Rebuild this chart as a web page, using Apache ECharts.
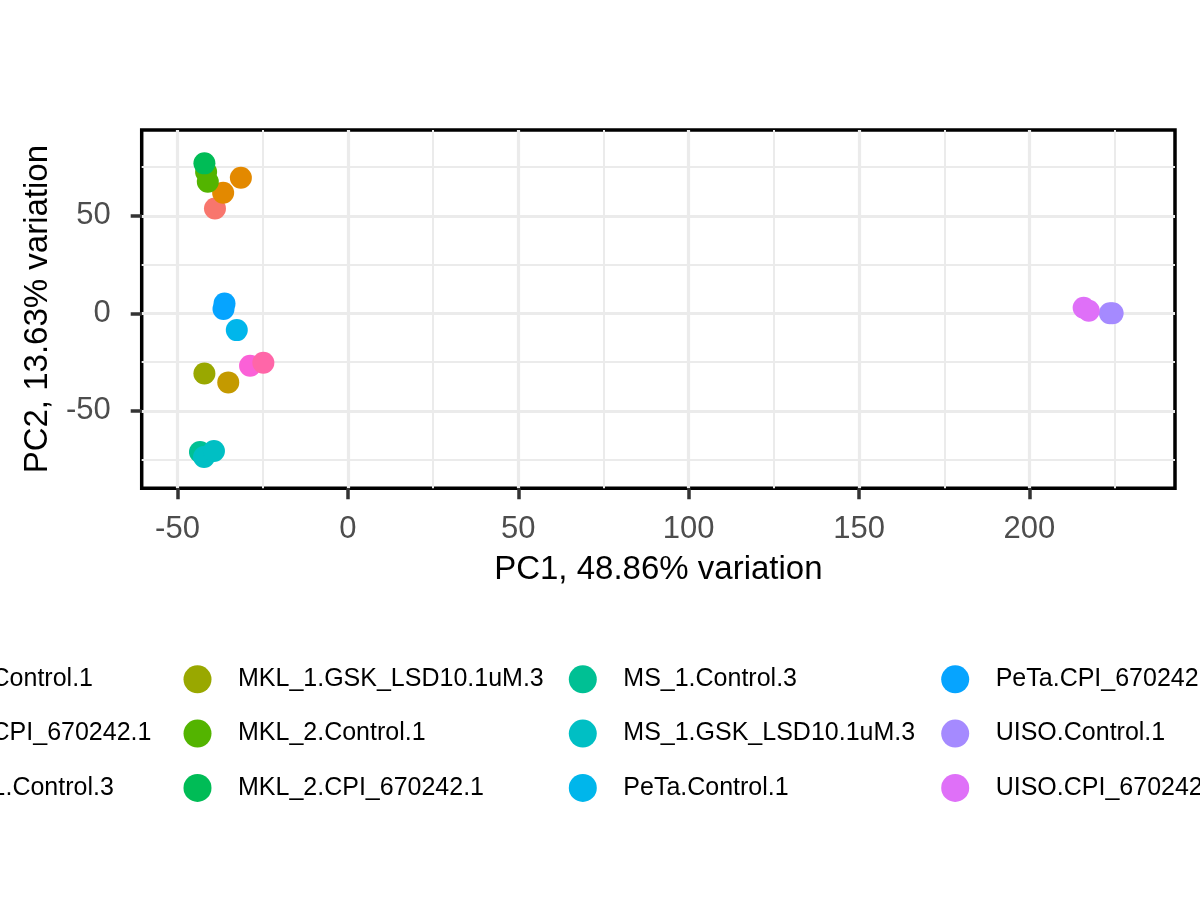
<!DOCTYPE html>
<html>
<head>
<meta charset="utf-8">
<title>PCA biplot</title>
<script src="https://cdn.jsdelivr.net/npm/echarts@6/dist/echarts.min.js"></script>
<style>
  html, body { margin: 0; padding: 0; background: #fff; }
  #chart { width: 1200px; height: 900px; }
</style>
</head>
<body>
<div id="chart"></div>
<script>
// sample names, in legend order (filled column by column, 3 per column)
var sampleNames = [
  "MKL_1.Control.1", "MKL_1.CPI_670242.1", "MKL_1.1.Control.3",
  "MKL_1.GSK_LSD10.1uM.3", "MKL_2.Control.1", "MKL_2.CPI_670242.1",
  "MS_1.Control.3", "MS_1.GSK_LSD10.1uM.3", "PeTa.Control.1",
  "PeTa.CPI_670242.1", "UISO.Control.1", "UISO.CPI_670242.1",
  "UISO.Control.3", "UISO.GSK_LSD10.1uM.3"
];

// ggplot hue palette for 14 levels
var palette = [
  "#F8766D", "#E38900", "#C49A00", "#99A800", "#53B400", "#00BC56", "#00C094",
  "#00BFC4", "#00B6EB", "#06A4FF", "#A58AFF", "#DF70F8", "#FB61D7", "#FF66A8"
];

// points: PC1, PC2 and the sample (index into sampleNames)
var pc1Values = [-39.0, -31.4, -36.6, -35.1, -42.1, -41.6, -41.1, -42.1, -43.4, -42.2, -39.3,
                 -32.6, -36.2, -36.5, 223.6, 224.4, 215.9, 217.4, -28.7, -24.8];
var pc2Values = [53.8, 69.5, 61.8, -35.4, -30.8, 72.5, 67.5, 76.9, -71.1, -73.7, -70.6,
                 -8.6, 5.0, 2.2, 0.0, 0.0, 2.9, 1.3, -26.9, -25.3];
var pointGroup = [0, 1, 1, 2, 3, 4, 4, 5, 6, 7, 7, 8, 9, 9, 10, 10, 11, 11, 12, 13];

var xMajorTicks = [-50, 0, 50, 100, 150, 200];
var xMinorTicks = [-25, 25, 75, 125, 175, 225];
var yMajorTicks = [-50, 0, 50];
var yMinorTicks = [-75, -25, 25, 75];

var xTitle = "PC1, 48.86% variation";
var yTitle = "PC2, 13.63% variation";

var font = "Liberation Sans";
var gridColor = "#EBEBEB";

var series = sampleNames.map(function (name, g) {
  var data = [];
  pointGroup.forEach(function (grp, i) {
    if (grp === g) data.push([pc1Values[i], pc2Values[i]]);
  });
  return {
    name: name,
    type: "scatter",
    symbol: "circle",
    symbolSize: 22,
    itemStyle: { color: palette[g], opacity: 1 },
    data: data
  };
});

// legend: one vertical legend per column (first and last columns run off the page)
var legendLeft = [-149.1, 183.5, 568.8, 941.2, 1362];
var legends = legendLeft.map(function (left, c) {
  return {
    orient: "vertical",
    left: left,
    top: 665.3,
    padding: 0,
    icon: "circle",
    itemWidth: 71,
    itemHeight: 28,
    itemGap: 26.3,
    selectedMode: false,
    textStyle: { fontFamily: font, fontSize: 25, color: "#000" },
    data: sampleNames.slice(c * 3, c * 3 + 3)
  };
});

var xMin = -60.5, xMax = 242.7, yMin = -89.7, yMax = 94.0;

var option = {
  animation: false,
  backgroundColor: "#fff",
  grid: {
    left: 141.7, right: 25, top: 130, bottom: 411.7,
    show: true, borderColor: "#000", borderWidth: 3.5, backgroundColor: "transparent"
  },
  legend: legends,
  xAxis: [
    {
      type: "value", min: xMin, max: xMax, position: "bottom",
      axisLine: { show: false, onZero: false },
      axisTick: { show: true, length: 11, customValues: xMajorTicks,
                  lineStyle: { color: "#333333", width: 3.5 } },
      axisLabel: { customValues: xMajorTicks, color: "#4D4D4D", fontSize: 31,
                   fontFamily: font, margin: 41, verticalAlign: "middle" },
      splitLine: { show: true, lineStyle: { color: gridColor, width: 3.2 } },
      name: xTitle, nameLocation: "middle", nameGap: 81.5,
      nameTextStyle: { fontFamily: font, fontSize: 33, color: "#000", verticalAlign: "middle" }
    },
    {
      type: "value", min: xMin, max: xMax, position: "bottom",
      axisLine: { show: false, onZero: false },
      axisTick: { show: false, customValues: xMinorTicks },
      axisLabel: { show: false },
      splitLine: { show: true, lineStyle: { color: gridColor, width: 2 } }
    }
  ],
  yAxis: [
    {
      type: "value", min: yMin, max: yMax, position: "left",
      axisLine: { show: false, onZero: false },
      axisTick: { show: true, length: 11, customValues: yMajorTicks,
                  lineStyle: { color: "#333333", width: 3.5 } },
      axisLabel: { customValues: yMajorTicks, color: "#4D4D4D", fontSize: 31,
                   fontFamily: font, margin: 31 },
      splitLine: { show: true, lineStyle: { color: gridColor, width: 3.2 } },
      name: yTitle, nameLocation: "middle", nameGap: 104,
      nameTextStyle: { fontFamily: font, fontSize: 33, color: "#000", verticalAlign: "middle" }
    },
    {
      type: "value", min: yMin, max: yMax, position: "left",
      axisLine: { show: false, onZero: false },
      axisTick: { show: false, customValues: yMinorTicks },
      axisLabel: { show: false },
      splitLine: { show: true, lineStyle: { color: gridColor, width: 2 } }
    }
  ],
  series: series
};

var myChart = echarts.init(document.getElementById("chart"), null, { renderer: "canvas" });
myChart.setOption(option);
</script>
</body>
</html>
